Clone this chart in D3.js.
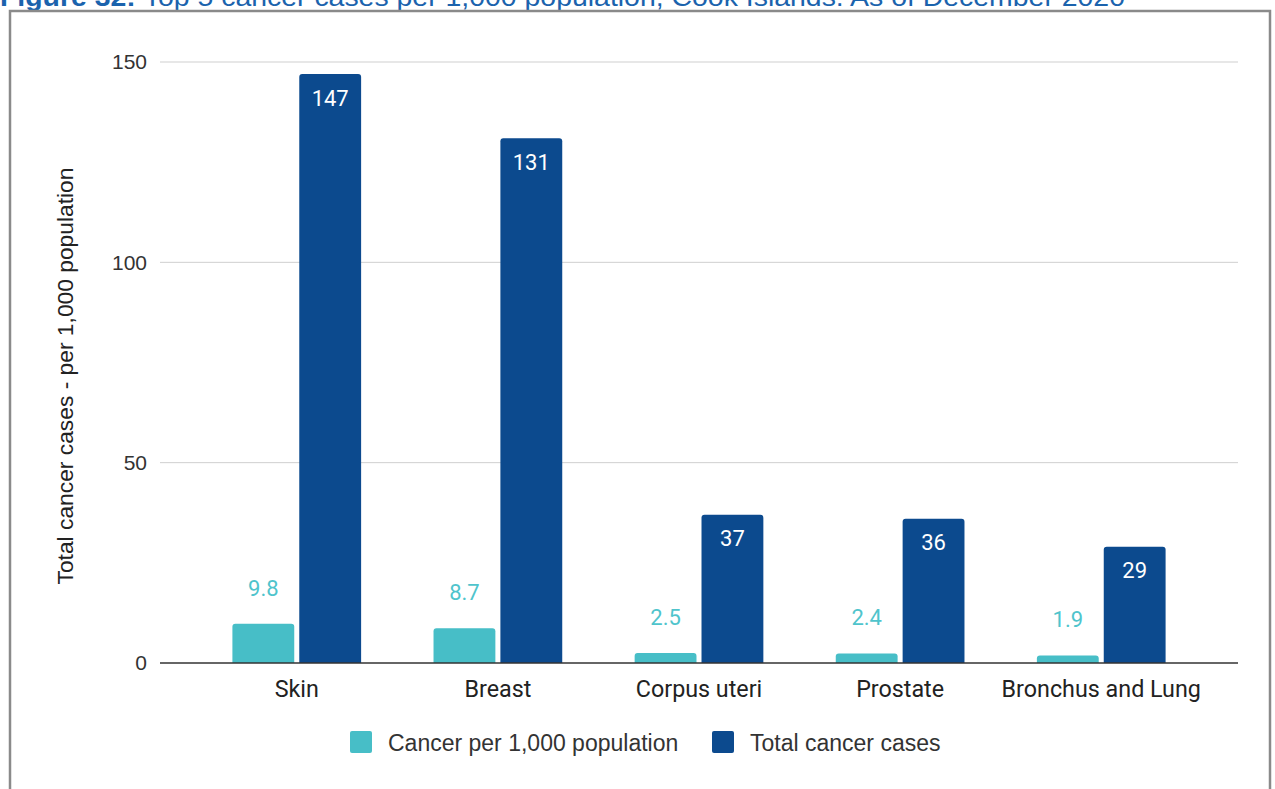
<!DOCTYPE html>
<html>
<head>
<meta charset="utf-8">
<script src="https://cdn.jsdelivr.net/npm/d3@7"></script>
<style>
  html, body { margin: 0; padding: 0; background: #fff; }
  svg { display: block; }
</style>
</head>
<body>
<svg id="chart" width="1275" height="789"></svg>
<script>
// ---- data ----
const categories = ["Skin", "Breast", "Corpus uteri", "Prostate", "Bronchus and Lung"];
const seriesNames = ["Cancer per 1,000 population", "Total cancer cases"];
const perThousand = [9.8, 8.7, 2.5, 2.4, 1.9];
const totalCases = [147, 131, 37, 36, 29];
const yTicks = [0, 50, 100, 150];
const titleText = "Top 5 cancer cases per 1,000 population, Cook Islands. As of December 2020";
const yAxisTitle = "Total cancer cases - per 1,000 population";

const colors = ["#47bec7", "#0c4a8e"];
const labelColors = ["#4fc4cc", "#ffffff"];

const svg = d3.select("#chart");

// title (cut off at top, as in the reference)
const title = svg.append("text")
  .attr("x", 0).attr("y", 6)
  .attr("font-family", "Liberation Sans, Arial, sans-serif")
  .attr("font-size", 26)
  .attr("fill", "#1b63ad")
  .attr("textLength", 1125)
  .attr("lengthAdjust", "spacingAndGlyphs");
title.append("tspan").attr("font-weight", "bold").text("Figure 32: ");
title.append("tspan").text(titleText);

// frame
svg.append("path")
  .attr("d", "M10,790 L10,11 L1270,11 L1270,790")
  .attr("fill", "none")
  .attr("stroke", "#8a8a8a")
  .attr("stroke-width", 2.5);

// scales
const y = d3.scaleLinear().domain([0, 150]).range([663, 62]);
const x0 = d3.scaleBand().domain(categories).range([160, 1238]).padding(0.36);
const x1 = d3.scaleBand().domain([0, 1]).range([0, x0.bandwidth()]).paddingInner(0.075);

// gridlines
svg.append("g").selectAll("line").data(yTicks.filter(d => d !== 0)).join("line")
  .attr("x1", 160).attr("x2", 1238)
  .attr("y1", d => y(d)).attr("y2", d => y(d))
  .attr("stroke", "#cfcfcf").attr("stroke-width", 1);

// y axis tick labels
const yAxis = d3.axisLeft(y).tickValues(yTicks).tickSize(0).tickPadding(0);
const gy = svg.append("g").attr("transform", "translate(147,0)").call(yAxis);
gy.select(".domain").remove();
gy.selectAll("text")
  .attr("font-family", "Liberation Sans, Arial, sans-serif")
  .attr("font-size", 21)
  .attr("fill", "#333");

// rounded-top bar path
function barPath(x, yTop, w, yBase, r) {
  const h = yBase - yTop;
  r = Math.min(r, h, w / 2);
  return `M${x},${yBase} L${x},${yTop + r} Q${x},${yTop} ${x + r},${yTop} ` +
         `L${x + w - r},${yTop} Q${x + w},${yTop} ${x + w},${yTop + r} L${x + w},${yBase} Z`;
}

const series = [perThousand, totalCases];
const groups = svg.append("g").selectAll("g").data(categories).join("g")
  .attr("transform", d => `translate(${x0(d)},0)`);

series.forEach((vals, si) => {
  groups.append("path")
    .attr("d", (d, i) => barPath(x1(si), y(vals[i]), x1.bandwidth(), y(0), 3))
    .attr("fill", colors[si]);
  groups.append("text")
    .attr("x", x1(si) + x1.bandwidth() / 2)
    .attr("y", (d, i) => si === 0 ? y(vals[i]) - 28 : y(vals[i]) + 31.5)
    .attr("text-anchor", "middle")
    .attr("font-family", "Roboto, sans-serif")
    .attr("font-size", 22)
    .attr("fill", labelColors[si])
    .text((d, i) => si === 0 ? d3.format(".1f")(vals[i]) : vals[i]);
});

// zero baseline
svg.append("line")
  .attr("x1", 160).attr("x2", 1238)
  .attr("y1", y(0)).attr("y2", y(0))
  .attr("stroke", "#333").attr("stroke-width", 1.3);

// x axis labels
const xAxis = d3.axisBottom(x0).tickSize(0).tickPadding(0);
const gx = svg.append("g").attr("transform", `translate(0,${y(0) + 17.5})`).call(xAxis);
gx.select(".domain").remove();
gx.selectAll("text")
  .attr("font-family", "Roboto, sans-serif")
  .attr("font-size", 23.3)
  .attr("fill", "#222");

// y axis title
svg.append("text")
  .attr("transform", "translate(73,376) rotate(-90)")
  .attr("text-anchor", "middle")
  .attr("font-family", "Liberation Sans, Arial, sans-serif")
  .attr("font-size", 22.8)
  .attr("fill", "#222")
  .text(yAxisTitle);

// legend
const legendX = [350, 712];
const legend = svg.append("g").selectAll("g").data(seriesNames).join("g")
  .attr("transform", (d, i) => `translate(${legendX[i]},731)`);
legend.append("rect")
  .attr("width", 22).attr("height", 22).attr("rx", 2)
  .attr("fill", (d, i) => colors[i]);
legend.append("text")
  .attr("x", 38).attr("y", 19.5)
  .attr("font-family", "Liberation Sans, Arial, sans-serif")
  .attr("font-size", 23)
  .attr("fill", "#333")
  .text(d => d);
</script>
</body>
</html>
